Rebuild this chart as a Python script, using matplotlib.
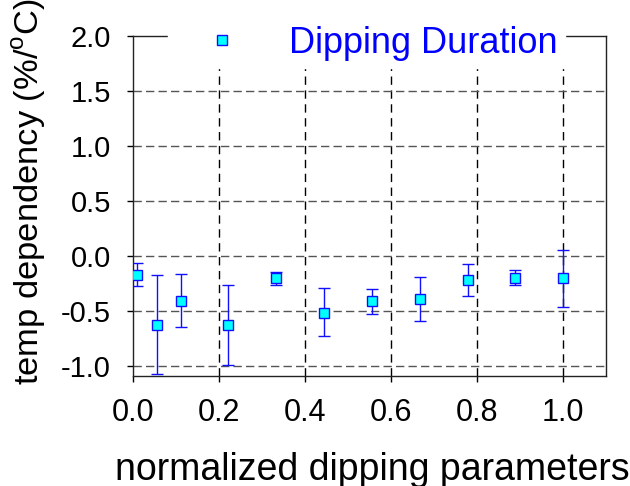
import matplotlib
matplotlib.use("Agg")
import matplotlib.pyplot as plt

# values
x_param = [0.01, 0.056, 0.111, 0.222, 0.333, 0.444, 0.556, 0.667, 0.778, 0.889, 1.0]
temp_dep = [-0.17, -0.63, -0.41, -0.625, -0.20, -0.515, -0.41, -0.39, -0.22, -0.197, -0.20]
err_hi = [-0.06, -0.175, -0.16, -0.26, -0.15, -0.29, -0.30, -0.19, -0.07, -0.13, 0.05]
err_lo = [-0.27, -1.075, -0.65, -0.99, -0.26, -0.73, -0.53, -0.59, -0.36, -0.26, -0.46]
xticks = [0.0, 0.2, 0.4, 0.6, 0.8, 1.0]
yticks = [-1.0, -0.5, 0.0, 0.5, 1.0, 1.5, 2.0]
series_name = "Dipping Duration"

plt.rcParams["font.family"] = ["Liberation Sans", "DejaVu Sans"]
plt.rcParams["mathtext.fontset"] = "custom"
plt.rcParams["mathtext.rm"] = "Liberation Sans"

fig = plt.figure(figsize=(6.3, 4.86), dpi=100)
ax = fig.add_axes([133 / 630, 1 - 376 / 486, 473 / 630, 340 / 486])

yerr = [[v - lo for v, lo in zip(temp_dep, err_lo)],
        [hi - v for v, hi in zip(temp_dep, err_hi)]]
ax.errorbar(x_param, temp_dep, yerr=yerr, fmt="none",
            ecolor="#1010ff", elinewidth=1.0, capsize=4.5, capthick=1.0,
            zorder=3)
ax.plot(x_param, temp_dep, ls="none", marker="s", markersize=7,
        markerfacecolor="cyan", markeredgecolor="#1010ff",
        markeredgewidth=1.0, label=series_name, zorder=4)

ax.set_xlim(0, 1.1)
ax.set_ylim(-1.091, 2.0)
ax.set_xticks(xticks)
ax.set_yticks(yticks)
ax.set_xticklabels([f"{t:.1f}" for t in xticks])
ax.set_yticklabels([f"{t:.1f}" for t in yticks])

for t in xticks[1:]:
    ax.axvline(t, color="black", lw=1.0, ls=(0, (6, 4)), zorder=1)
for t in yticks[:-1]:
    ax.axhline(t, color="#555555", lw=1.0, ls=(0, (6, 3)), zorder=1)

for s in ax.spines.values():
    s.set_linewidth(1.0)
    s.set_color("#222222")
ax.tick_params(axis="both", direction="out", length=4, width=1.0)
ax.tick_params(axis="x", pad=12, labelsize=22)
ax.tick_params(axis="y", pad=12, labelsize=21)

ax.set_xlabel("normalized dipping parameters", fontsize=27)
ax.xaxis.set_label_coords(0.505, -0.224)
ax.set_ylabel("temp dependency (%/$^{\\mathrm{o}}$C)", fontsize=24.8)
ax.yaxis.set_label_coords(-0.18, 0.543)

leg = ax.legend(loc="lower left", bbox_to_anchor=(0.074, 0.906),
                borderaxespad=0, fontsize=26, frameon=True, fancybox=False,
                framealpha=1.0, facecolor="white", edgecolor="white",
                handlelength=2.6, handletextpad=0.55, borderpad=0.2,
                numpoints=1)
for txt in leg.get_texts():
    txt.set_color("blue")
leg.set_zorder(5)

# title mostly cut off by the top edge of the image
fig.text(0.612, 1.012, "(dipping)", fontsize=20, ha="center",
         va="baseline", color="#333333")

fig.savefig("out.png", dpi=100, facecolor="white")
